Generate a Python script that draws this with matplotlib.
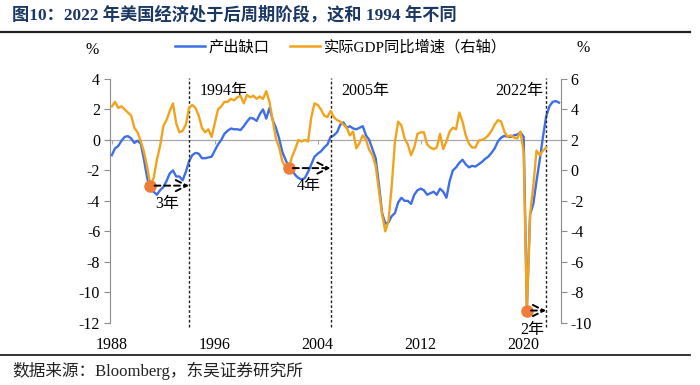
import numpy as np
import matplotlib
matplotlib.use("Agg")
import matplotlib.pyplot as plt
from matplotlib.lines import Line2D

plt.rcParams['font.family'] = ['Liberation Serif', 'Noto Sans CJK SC', 'DejaVu Sans']
plt.rcParams['axes.unicode_minus'] = False

# ---------------- data (quarterly, starting 1988Q1) ----------------
start_year = 1988
output_gap = [
    -1.0, -0.55, -0.4, -0.05,   # 1988
    0.2, 0.25, 0.1, -0.2,       # 1989
    -0.05, -0.25, -1.3, -2.5,   # 1990
    -3.3, -3.4, -3.6, -3.3,     # 1991
    -3.1, -2.7, -2.2, -2.0,     # 1992
    -2.4, -2.4, -2.65, -2.1,    # 1993
    -1.4, -1.0, -0.85, -0.9,    # 1994
    -1.2, -1.2, -1.15, -1.1,    # 1995
    -0.7, -0.3, 0.0, 0.4,       # 1996
    0.6, 0.75, 0.7, 0.7,        # 1997
    0.65, 0.9, 1.2, 1.45,       # 1998
    1.4, 1.25, 1.7, 2.0,        # 1999
    1.4, 2.1, 1.3, 0.8,         # 2000
    0.1, -0.8, -1.3, -1.8,      # 2001
    -2.0, -2.3, -2.5, -2.6,     # 2002
    -2.5, -2.1, -1.6, -1.1,     # 2003
    -0.9, -0.75, -0.5, -0.3,    # 2004
    0.2, 0.3, 0.5, 1.0,         # 2005
    1.15, 0.8, 0.9, 0.75,       # 2006
    0.7, 0.8, 0.9, 0.3,         # 2007
    0.0, -0.6, -1.2, -2.9,      # 2008
    -4.8, -5.5, -5.4, -5.0,     # 2009
    -4.8, -4.1, -3.8, -4.0,     # 2010
    -4.0, -4.2, -3.6, -3.3,     # 2011
    -3.2, -3.3, -3.6, -3.5,     # 2012
    -3.4, -3.6, -3.2, -3.4,     # 2013
    -3.8, -2.7, -2.0, -1.8,     # 2014
    -1.5, -1.3, -1.6, -1.8,     # 2015
    -1.7, -1.75, -1.6, -1.45,   # 2016
    -1.25, -1.1, -0.85, -0.55,  # 2017
    -0.1, 0.15, 0.27, 0.2,      # 2018
    0.2, 0.3, 0.35, 0.5,        # 2019
    0.2, -11.0, -4.9, -4.2,     # 2020
    -2.7, -1.3, 0.2, 1.55,      # 2021
    2.2, 2.5, 2.55, 2.45,       # 2022
]
gdp_yoy = [
    4.2, 4.5, 4.1, 4.2,         # 1988
    4.0, 3.8, 3.6, 2.8,         # 1989
    2.5, 1.9, 1.2, 0.2,         # 1990
    -1.0, -0.5, 0.7, 1.6,       # 1991
    2.9, 3.3, 3.9, 4.4,         # 1992
    3.1, 2.5, 2.6, 3.0,         # 1993
    4.1, 4.3, 4.1, 3.6,         # 1994
    2.8, 2.5, 2.7, 2.2,         # 1995
    3.1, 4.0, 4.2, 4.5,         # 1996
    4.5, 4.7, 4.6, 4.8,         # 1997
    4.9, 4.4, 4.95, 4.8,        # 1998
    4.9, 4.7, 4.85, 4.7,        # 1999
    5.2, 4.5, 3.3, 2.1,         # 2000
    1.5, 0.6, 0.2, 0.15,        # 2001
    0.9, 1.4, 2.0, 1.9,         # 2002
    2.0, 1.9, 3.5, 4.4,         # 2003
    4.3, 4.0, 3.6, 3.5,         # 2004
    3.9, 3.5, 3.3, 3.2,         # 2005
    3.0, 2.8, 2.3, 2.55,        # 2006
    1.45, 1.8, 2.3, 2.0,        # 2007
    1.35, 1.0, 0.3, -1.3,       # 2008
    -2.9, -4.0, -3.3, -1.0,     # 2009
    1.9, 3.2, 2.95, 2.1,        # 2010
    1.7, 1.0, 1.5, 2.4,         # 2011
    2.5, 2.5, 1.7, 1.5,         # 2012
    1.4, 1.5, 2.4, 1.4,         # 2013
    1.9, 2.55, 2.8, 2.7,        # 2014
    3.8, 3.2, 2.3, 1.75,        # 2015
    1.5, 1.5, 1.95, 2.0,        # 2016
    2.1, 2.3, 2.6, 3.0,         # 2017
    3.3, 3.2, 2.55, 2.2,        # 2018
    2.3, 2.15, 2.1, 2.55,       # 2019
    1.2, -9.2, -2.9, -1.0,      # 2020
    1.3, 1.0, 1.3, 1.5,         # 2021
]
# troughs (year, quarter) marked with dots, and the vertical reference lines
trough_quarters = [(1991, 1), (2001, 4), (2020, 2)]
ref_lines = [1994.0, 2005.0, 2021.75]
ref_labels = ['1994年', '2005年', '2022年']
gap_labels = ['3年', '4年', '2年']
x_ticks = [1988, 1996, 2004, 2012, 2020]
left_ticks = list(range(-12, 5, 2))
right_ticks = list(range(-10, 7, 2))

x_gap = start_year + np.arange(len(output_gap)) / 4.0
x_gdp = start_year + np.arange(len(gdp_yoy)) / 4.0

BLUE = '#3F6FE6'
ORANGE = '#F2A31C'
DOT = '#EE7D3A'
GREY = '#8C8C8C'

fig = plt.figure(figsize=(7.0, 3.85), dpi=100)
ax = fig.add_axes([0.157, 0.1618, 0.6444, 0.633])
ax2 = ax.twinx()

ax.plot(x_gap, output_gap, color=BLUE, lw=1.7, zorder=3)
ax.axhline(0, color='#A8A8A8', lw=0.9, zorder=1)
ax.vlines(x_ticks, -0.25, 0, color='#A8A8A8', lw=0.8)
ax2.plot(x_gdp, gdp_yoy, color=ORANGE, lw=1.7, zorder=3)

ax.set_xlim(1987.85, 2022.9)
ax.set_ylim(-12, 4)
ax2.set_ylim(-10, 6)
ax.set_yticks(left_ticks)
ax2.set_yticks(right_ticks)
ax.set_xticks(x_ticks)
ax.set_xticklabels([str(t) for t in x_ticks])

for a in (ax, ax2):
    for s in ('top', 'bottom'):
        a.spines[s].set_visible(False)
ax.spines['right'].set_visible(False)
ax.spines['left'].set_color(GREY)
ax2.spines['left'].set_visible(False)
ax2.spines['right'].set_color(GREY)
ax.tick_params(axis='y', direction='out', length=4, color=GREY, labelsize=11.5, pad=3)
ax2.tick_params(axis='y', direction='out', length=4, color=GREY, labelsize=11.5, pad=3)
ax.tick_params(axis='x', length=0, labelsize=11.5, pad=10)

# reference dashed lines
ax.vlines(ref_lines, -12.3, 4.05, colors='#222222', linestyles=(0, (2, 1.5)), lw=1.0,
          clip_on=False, zorder=4)

# dots and arrows on the GDP axis
for (yr, q), xl, lab in zip(trough_quarters, ref_lines, gap_labels):
    i = (yr - start_year) * 4 + (q - 1)
    xd, yd = x_gdp[i], gdp_yoy[i]
    ax2.plot([xd], [yd], 'o', color=DOT, ms=8, zorder=6, mec=DOT)
    ax2.annotate('', xy=(xl, yd), xytext=(xd, yd),
                 arrowprops=dict(arrowstyle='->', color='black', lw=1.4,
                                 linestyle=(0, (3, 2)), shrinkA=3, shrinkB=0,
                                 mutation_scale=20), zorder=7)

# text annotations (data coordinates of left axis)
ax.text(1994.8, 3.2, ref_labels[0], fontsize=11.5, ha='left', va='center')
ax.text(2005.8, 3.2, ref_labels[1], fontsize=11.5, ha='left', va='center')
ax.text(2021.5, 3.2, ref_labels[2], fontsize=11.5, ha='right', va='center')
ax.text(1992.3, -4.2, gap_labels[0], fontsize=11.5, ha='center', va='center')
ax.text(2003.3, -3.0, gap_labels[1], fontsize=11.5, ha='center', va='center')
ax.text(2020.7, -12.5, gap_labels[2], fontsize=11.5, ha='center', va='center')

# unit labels
fig.text(92 / 700, 1 - 50 / 385, '%', fontsize=11.5, ha='center', va='center')
fig.text(583 / 700, 1 - 48 / 385, '%', fontsize=11.5, ha='center', va='center')

# legend
handles = [Line2D([0], [0], color=BLUE, lw=1.8), Line2D([0], [0], color=ORANGE, lw=1.8)]
fig.legend(handles, ['产出缺口', '实际GDP同比增速（右轴）'], loc='center',
           bbox_to_anchor=(0.487, 1 - 47 / 385), ncol=2, frameon=False,
           fontsize=11, handlelength=2.0, handletextpad=0.25, columnspacing=1.3)

# title, rules, source
fig.text(12 / 700, 1 - 15 / 385, '图10：2022 年美国经济处于后周期阶段，这和 1994 年不同',
         fontsize=12.4, fontweight='bold', color='#1B3764', ha='left', va='center')
fig.add_artist(Line2D([0, 690 / 700], [1 - 32 / 385] * 2, color='#222222', lw=1.6))
fig.add_artist(Line2D([0, 690 / 700], [1 - 355 / 385] * 2, color='#222222', lw=1.3))
fig.text(12 / 700, 1 - 371 / 385, '数据来源：Bloomberg，东吴证券研究所', fontsize=12,
         ha='left', va='center', color='#222222')

fig.savefig('out.png', dpi=100)
